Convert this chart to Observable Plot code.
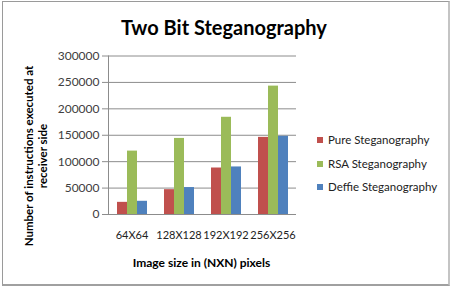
<!DOCTYPE html>
<html><head><meta charset="utf-8">
<script src="https://cdn.jsdelivr.net/npm/d3@7"></script>
<script src="https://cdn.jsdelivr.net/npm/@observablehq/plot@0.6"></script>
<style>
body{margin:0;background:#fff;font-family:Lato,"DejaVu Sans",sans-serif;}
#wrap{position:relative;width:451px;height:287px;overflow:hidden;background:#fff;}
#border{position:absolute;left:2px;top:1px;width:445px;height:282px;border:1px solid #9a9a9a;border-right:2px solid #c4c4c4;border-bottom:2px solid #a0a0a0;}
#title{position:absolute;left:224px;top:15px;transform:translateX(-50%);font-size:20px;font-weight:bold;color:#000;white-space:nowrap;}
#ylab{position:absolute;left:36px;top:156px;width:220px;text-align:center;font-size:11.5px;font-weight:bold;line-height:14px;color:#000;transform:translate(-50%,-50%) rotate(-90deg);}
#xlab{position:absolute;left:201.5px;top:255px;transform:translateX(-50%);font-size:12px;font-weight:bold;color:#000;white-space:nowrap;}
#legend{position:absolute;left:317px;top:0;font-size:11.5px;color:#222;}
.li{position:absolute;left:0;white-space:nowrap;display:flex;align-items:center;}
.sw{width:6px;height:6px;margin-right:5px;}
#chart{position:absolute;left:0;top:0;}
</style></head><body>
<div id="wrap">
 <div id="border"></div>
 <div id="chart"></div>
 <div id="title">Two Bit Steganography</div>
 <div id="ylab">Number of instructions executed at<br>receiver side</div>
 <div id="xlab">Image size in (NXN) pixels</div>
 <div id="legend"></div>
</div>
<script>
const categories = ["64X64", "128X128", "192X192", "256X256"];
const series = ["Pure Steganography", "RSA Steganography", "Deffie Steganography"];
const pure = [23000, 47000, 88000, 146000];
const rsa = [120000, 144000, 184000, 243000];
const deffie = [25000, 51000, 90000, 148000];
const yTicks = [0, 50000, 100000, 150000, 200000, 250000, 300000];
const colors = ["#C0504D", "#9BBB59", "#4F81BD"];

const values = [pure, rsa, deffie];
const rows = [];
categories.forEach((c, i) => series.forEach((s, j) => rows.push({cat: c, series: s, value: values[j][i]})));

const chart = Plot.plot({
  width: 451, height: 287,
  marginLeft: 106, marginRight: 154, marginTop: 55.5, marginBottom: 73,
  style: {fontFamily: "Lato, 'DejaVu Sans', sans-serif", fontSize: "12px", background: "transparent", color: "#404040"},
  fx: {domain: categories, padding: 0, label: null, axis: null},
  x: {domain: series, paddingInner: 0, paddingOuter: 0.81, axis: null},
  y: {domain: [0, 300000], axis: null},
  color: {domain: series, range: colors},
  marks: [
    Plot.ruleY(yTicks.slice(1), {stroke: "#8c8c8c", strokeWidth: 1}),
    Plot.barY(rows, {fx: "cat", x: "series", y: "value", fill: "series"}),
    Plot.ruleY([0], {stroke: "#8c8c8c"}),
    Plot.axisY({ticks: yTicks, tickFormat: d => String(d), tickSize: 6, tickPadding: 3, stroke: "#8c8c8c", fill: "#404040", label: null, anchor: "left"}),
    Plot.axisFx({anchor: "bottom", tickSize: 0, tickPadding: 17, label: null, fill: "#222", fontSize: 11}),
    Plot.frame({anchor: "left", stroke: "#8c8c8c", facet: "super"})
  ]
});
document.getElementById("chart").appendChild(chart);

const legend = document.getElementById("legend");
const tops = [133, 157, 180];
series.forEach((s, j) => {
  const d = document.createElement("div");
  d.className = "li";
  d.style.top = tops[j] + "px";
  d.innerHTML = `<span class="sw" style="background:${colors[j]}"></span><span>${s}</span>`;
  legend.appendChild(d);
});
</script>
</body></html>
